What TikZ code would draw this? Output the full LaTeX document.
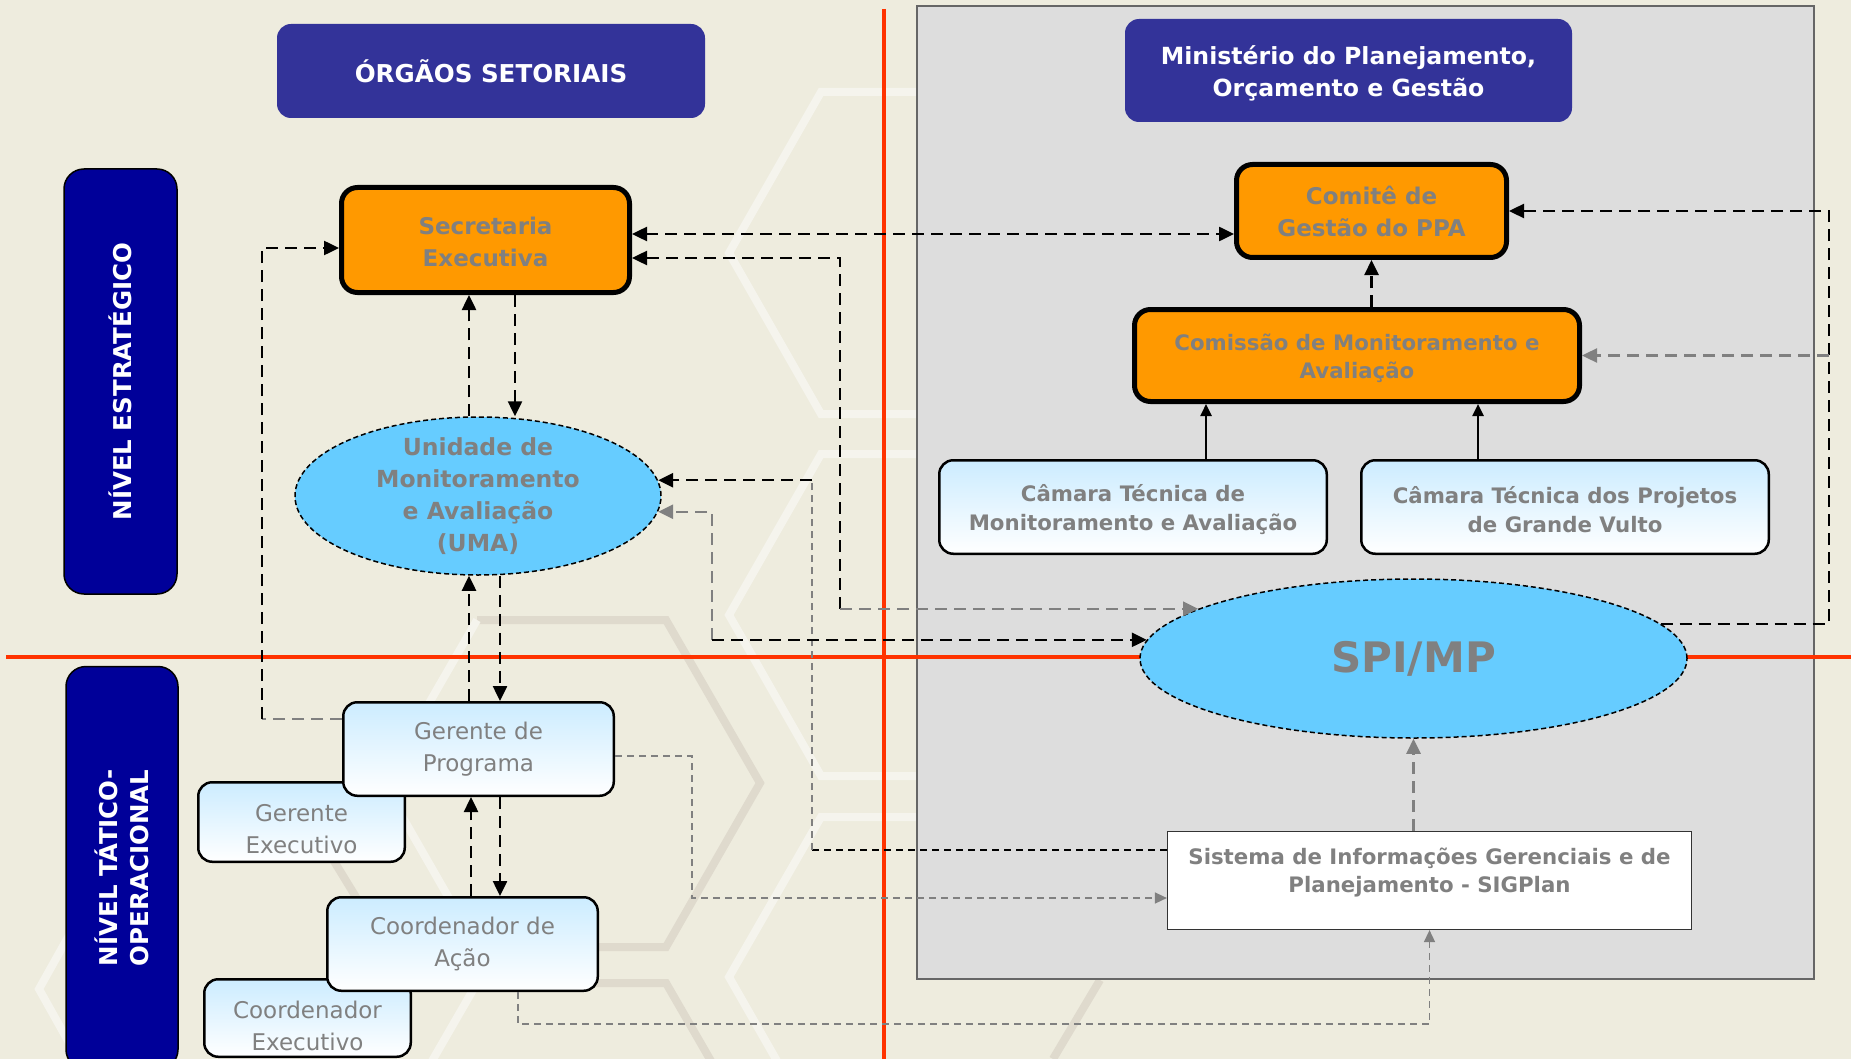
\documentclass[tikz,border=0pt]{standalone}
\usepackage{fontspec}
\setmainfont{DejaVu Sans}
\usetikzlibrary{arrows.meta,shapes.geometric,positioning}

\definecolor{bgbeige}{RGB}{238,236,222}
\definecolor{panelgray}{RGB}{221,221,221}
\definecolor{titleblue}{RGB}{51,51,153}
\definecolor{levelblue}{RGB}{0,0,153}
\definecolor{boxorange}{RGB}{255,153,0}
\definecolor{skyblue}{RGB}{102,204,255}
\definecolor{paleblue}{RGB}{204,236,255}
\definecolor{linered}{RGB}{255,51,0}
\definecolor{textgray}{RGB}{128,128,128}
\definecolor{hexwhite}{RGB}{245,244,237}
\definecolor{hextan}{RGB}{223,218,205}

\begin{document}
\begin{tikzpicture}[x=1pt,y=-1pt,>={Triangle[length=15pt,width=14pt]},
  title/.style={fill=titleblue,rounded corners=14pt,text=white,align=center,inner sep=0pt,
                font=\bfseries\fontsize{24.6}{32}\selectfont},
  level/.style={fill=levelblue,draw=black,line width=1.5pt,rounded corners=20pt,text=white,
                align=center,inner sep=0pt,rotate=90,font=\bfseries\fontsize{24.5}{31}\selectfont},
  orangebox/.style={fill=boxorange,draw=black,line width=5pt,rounded corners=16pt,text=textgray,
                align=center,inner sep=0pt,font=\bfseries\fontsize{23}{32}\selectfont},
  bluedisk/.style={ellipse,fill=skyblue,draw=black,line width=1.5pt,dash pattern=on 5pt off 3pt,
                text=textgray,align=center,inner sep=0pt,font=\bfseries\fontsize{23.5}{32}\selectfont},
  palebox/.style={top color=paleblue,bottom color=white,draw=black,line width=2.5pt,
                rounded corners=14pt,text=textgray,align=center,inner sep=0pt,
                font=\fontsize{23}{32}\selectfont},
  sigbox/.style={fill=white,draw=black!80,line width=1.2pt,text=textgray,inner sep=0pt,
                font=\bfseries\fontsize{21.3}{28}\selectfont},
  blk/.style={draw=black,line width=2.5pt,dash pattern=on 12pt off 7pt},
  gry/.style={draw=textgray,line width=2.5pt,dash pattern=on 12pt off 7pt},
  thinblk/.style={draw=black,line width=1.8pt,dash pattern=on 7pt off 5pt},
  thingry/.style={draw=textgray,line width=1.5pt,dash pattern=on 7pt off 5pt,
                  -{Triangle[length=12pt,width=11pt]}}]

\useasboundingbox (0,0) rectangle (1851,1059);
\clip (0,0) rectangle (1851,1059);
\fill[bgbeige] (0,0) rectangle (1851,1059);

% background hexagons
\begin{scope}[line width=8pt]
  \draw[hextan] (477,620) -- (666,620) -- (760,783) -- (666,947) -- (477,947);
  \draw[hexwhite] (477,620) -- (383,783) -- (477,947);
  \draw[hextan] (477,983) -- (666,983) -- (760,1146);
  \draw[hexwhite] (477,983) -- (383,1146);
  \draw[hextan] (318,835) -- (370,920);
  \draw[hextan] (1100,980) -- (1053,1059);
  \draw[hexwhite] (1010,92) -- (821,92) -- (729,253) -- (821,414) -- (1010,414);
  \draw[hexwhite] (1010,454) -- (821,454) -- (729,615) -- (821,776) -- (1010,776);
  \draw[hexwhite] (1010,817) -- (821,817) -- (729,977) -- (821,1138);
  \draw[hexwhite] (90,898) -- (39,989) -- (90,1080);
\end{scope}

% MP panel and level lines
\draw[draw=black!60,fill=panelgray,line width=1.5pt] (917,6) rectangle (1814,979);
\draw[linered,line width=4pt] (884,9) -- (884,1059);
\draw[linered,line width=4pt] (6,657) -- (1851,657);

% headers
\node[title,minimum width=428pt,minimum height=94pt] (orgaos) at (491,71) {ÓRGÃOS SETORIAIS};
\node[title,minimum width=447pt,minimum height=103pt,text height=56pt,font=\bfseries\fontsize{23.6}{32}\selectfont] (mpog) at (1348.5,70.5) {Ministério do Planejamento,\\Orçamento e Gestão};
\node[level,minimum width=425pt,minimum height=113pt] (estrat) at (120.5,381.5) {NÍVEL ESTRATÉGICO};
\node[level,minimum width=403pt,minimum height=112pt] (tatico) at (122,868) {NÍVEL TÁTICO-\\OPERACIONAL};

% strategic level
\node[orangebox,minimum width=288pt,minimum height=105pt,text height=54pt] (secex) at (485.5,240) {Secretaria\\Executiva};
\node[orangebox,minimum width=270pt,minimum height=93pt] (comite) at (1371.5,211) {Comitê de\\Gestão do PPA};
\node[orangebox,minimum width=445pt,minimum height=92pt,text height=51pt,font=\bfseries\fontsize{21.3}{28}\selectfont] (comissao) at (1357,355.5) {Comissão de Monitoramento e\\Avaliação};
\node[bluedisk,minimum width=366pt,minimum height=158pt,inner ysep=-8pt] (uma) at (478,496) {Unidade de\\Monitoramento\\e Avaliação\\(UMA)};
\node[palebox,font=\bfseries\fontsize{21.3}{29.5}\selectfont,text height=52pt,minimum width=387.5pt,minimum height=93.5pt] (camma) at (1133,507) {Câmara Técnica de\\Monitoramento e Avaliação};
\node[palebox,font=\bfseries\fontsize{21.3}{29.5}\selectfont,text height=52pt,minimum width=407.5pt,minimum height=93.5pt] (camgv) at (1565,507) {Câmara Técnica dos Projetos\\de Grande Vulto};
\node[bluedisk,minimum width=547pt,minimum height=159pt,font=\bfseries\fontsize{42}{50}\selectfont] (spimp) at (1413.5,658.5) {SPI/MP};

% tactical level
\node[palebox,minimum width=206.5pt,minimum height=79.5pt,text height=64pt] (gerex) at (301.5,822) {Gerente\\Executivo};
\node[palebox,minimum width=270.5pt,minimum height=93.5pt] (gerprog) at (478.5,749) {Gerente de\\Programa};
\node[palebox,minimum width=206.5pt,minimum height=77.5pt,text height=66pt] (coordex) at (307.5,1018) {Coordenador\\Executivo};
\node[palebox,minimum width=270.5pt,minimum height=93.5pt] (coordac) at (462.5,944) {Coordenador de\\Ação};
\node[sigbox,minimum width=524pt,minimum height=98pt] (sigplan) at (1429.5,880.5) {\parbox[c][66pt][t]{520pt}{\centering Sistema de Informações Gerenciais e de\\Planejamento - SIGPlan}};

% connectors
\draw[blk,<->] (secex.east |- 0,234) -- (comite.west |- 0,234);

\coordinate (spiup) at (spimp.167 -| 840,0);
\draw[blk,->] (spiup) |- (secex.east |- 0,258);
\draw[gry,->] (spiup) -- (spimp.167);

\coordinate (sigleft) at (812,850);
\coordinate (umain) at (uma.5 -| sigleft);
\draw[thinblk] (sigplan.west |- sigleft) -- (sigleft);
\draw[thingry,-] (sigleft) -- (umain);
\draw[blk,->] (umain) -- (uma.5);

\coordinate (spiin) at (spimp.176 -| 712,0);
\coordinate (umaout) at (uma.-5 -| spiin);
\draw[gry,->] (spiin) -- (umaout) -- (uma.-5);
\draw[blk,->] (spiin) -- (spimp.176);

\draw[blk,->] (uma.north -| 469,0) -- (secex.south -| 469,0);
\draw[blk,->] (secex.south -| 515,0) -- (uma.north -| 515,0);
\draw[blk,->] (gerprog.north -| 469,0) -- (uma.south -| 469,0);
\draw[blk,->] (uma.south -| 500,0) -- (gerprog.north -| 500,0);
\draw[blk,->] (coordac.north -| 471,0) -- (gerprog.south -| 471,0);
\draw[blk,->] (gerprog.south -| 500,0) -- (coordac.north -| 500,0);

\coordinate (gerleft) at (262,719);
\draw[gry] (gerprog.west |- gerleft) -- (gerleft);
\draw[blk,->] (gerleft) |- (secex.west |- 0,248);

\coordinate (gerright) at (692,898);
\draw[thingry] (gerprog.east |- 0,756) -| (gerright) -- (sigplan.west |- gerright);

\coordinate (coordlow) at (518,1024);
\draw[thingry] (coordac.south -| coordlow) |- (sigplan.south |- coordlow) -- (sigplan.south);

\draw[gry,->] (sigplan.north -| spimp.south) -- (spimp.south);
\draw[blk,->] (comissao.north -| comite.south) -- (comite.south);
\draw[line width=2.5pt,-{Triangle[length=12pt,width=11pt]}] (camma.north -| 1206,0) -- (comissao.south -| 1206,0);
\draw[line width=2.5pt,-{Triangle[length=12pt,width=11pt]}] (camgv.north -| 1478,0) -- (comissao.south -| 1478,0);

\coordinate (farright) at (spimp.8 -| 1829,0);
\draw[blk,->] (spimp.8) -- (farright) |- (comite.east);
\draw[gry,->] (comissao.east -| farright) -- (comissao.east);
\end{tikzpicture}
\end{document}
